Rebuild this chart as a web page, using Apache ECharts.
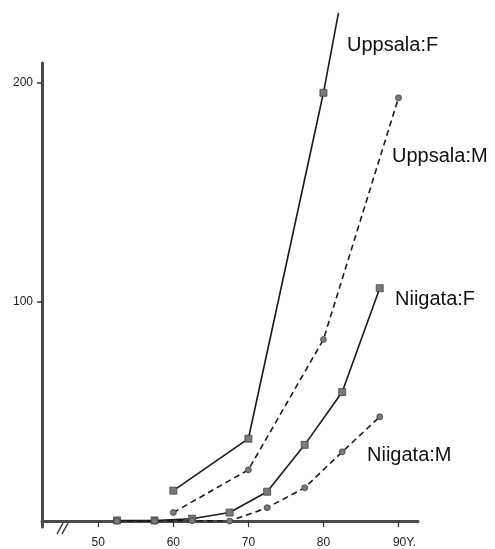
<!DOCTYPE html>
<html>
<head>
<meta charset="utf-8">
<script src="https://cdn.jsdelivr.net/npm/echarts@6/dist/echarts.min.js"></script>
<style>
  html, body { margin: 0; padding: 0; background: #fff; }
  #chart { width: 495px; height: 549px; }
</style>
</head>
<body>
<div id="chart"></div>
<script>
// ---- data ----
const xTicks = [50, 60, 70, 80, 90];
const yTicks = [100, 200];

const uppsalaF_age = [60, 70, 80, 82];
const uppsalaF_val = [13.9, 37.6, 195.5, 232];

const uppsalaM_age = [60, 70, 80, 90];
const uppsalaM_val = [3.9, 23.4, 82.9, 193.2];

const niigataF_age = [52.5, 57.5, 62.5, 67.5, 72.5, 77.5, 82.5, 87.5];
const niigataF_val = [0.3, 0.3, 1.1, 3.9, 13.4, 34.8, 58.9, 106.3];

const niigataM_age = [52.5, 57.5, 62.5, 67.5, 72.5, 77.5, 82.5, 87.5];
const niigataM_val = [0, 0, 0.2, 0, 6.1, 15.2, 31.6, 47.6];

const seriesNames = ['Uppsala:F', 'Uppsala:M', 'Niigata:F', 'Niigata:M'];

function pairs(xs, ys) { return xs.map((x, i) => [x, ys[i]]); }

const chart = echarts.init(document.getElementById('chart'), null, { renderer: 'canvas' });

const FONT = '"Liberation Sans", Arial, Helvetica, sans-serif';
const lineColor = '#1a1a1a';
const symColor = '#7a7a7a';

function mkSeries(name, data, dashed, symbol, size) {
  return {
    name: name,
    type: 'line',
    data: data,
    clip: false,
    symbol: symbol,
    symbolSize: size,
    showAllSymbol: true,
    itemStyle: { color: symColor, borderColor: '#444', borderWidth: 0.8 },
    lineStyle: { color: lineColor, width: 1.6, type: dashed ? [6, 4] : 'solid' },
    animation: false,
    z: 3
  };
}

const ufData = pairs(uppsalaF_age, uppsalaF_val).map((p, i, arr) =>
  i === arr.length - 1 ? { value: p, symbol: 'none' } : { value: p });

const option = {
  backgroundColor: '#ffffff',
  animation: false,
  grid: { left: 42, right: 77, top: 63, bottom: 20.5, containLabel: false },
  xAxis: {
    type: 'value',
    min: 42.5,
    max: 92.6,
    splitLine: { show: false },
    axisLine: { show: true, lineStyle: { color: '#4a4a4a', width: 3 } },
    axisTick: { show: true, customValues: xTicks, length: 6, inside: false,
      lineStyle: { color: '#333', width: 1.2 } },
    axisLabel: {
      show: true, customValues: xTicks, margin: 10,
      color: '#222', fontSize: 12, fontFamily: FONT,
      formatter: function (v) { return v === 90 ? '{e|90Y.}' : String(v); },
      rich: { e: { fontSize: 12, fontFamily: FONT, color: '#222', padding: [0, 0, 0, 12] } }
    }
  },
  yAxis: {
    type: 'value',
    min: -2.7,
    max: 209.1,
    splitLine: { show: false },
    axisLine: { show: true, lineStyle: { color: '#4a4a4a', width: 3 } },
    axisTick: { show: true, customValues: yTicks, length: 5,
      lineStyle: { color: '#333', width: 1.5 } },
    axisLabel: { show: true, customValues: yTicks, margin: 9,
      color: '#222', fontSize: 12, fontFamily: FONT }
  },
  series: [
    mkSeries(seriesNames[0], ufData, false, 'rect', 7),
    mkSeries(seriesNames[1], pairs(uppsalaM_age, uppsalaM_val), true, 'circle', 6),
    mkSeries(seriesNames[2], pairs(niigataF_age, niigataF_val), false, 'rect', 7),
    mkSeries(seriesNames[3], pairs(niigataM_age, niigataM_val), true, 'circle', 6)
  ],
  graphic: [
    { type: 'text', left: 347, top: 35, style: { text: seriesNames[0], font: '20px ' + FONT, fill: '#111' } },
    { type: 'text', left: 392, top: 146, style: { text: seriesNames[1], font: '20px ' + FONT, fill: '#111' } },
    { type: 'text', left: 395, top: 289, style: { text: seriesNames[2], font: '20px ' + FONT, fill: '#111' } },
    { type: 'text', left: 367, top: 445, style: { text: seriesNames[3], font: '20px ' + FONT, fill: '#111' } },
    // axis break mark "//"
    { type: 'rect', shape: { x: 61, y: 524, width: 4, height: 9 }, style: { fill: '#fff' }, z: 10 },
    { type: 'line', shape: { x1: 57, y1: 534, x2: 63, y2: 523 }, style: { stroke: '#333', lineWidth: 1.5 }, z: 11 },
    { type: 'line', shape: { x1: 62, y1: 534, x2: 68, y2: 523 }, style: { stroke: '#333', lineWidth: 1.5 }, z: 11 }
  ]
};

chart.setOption(option);
</script>
</body>
</html>
